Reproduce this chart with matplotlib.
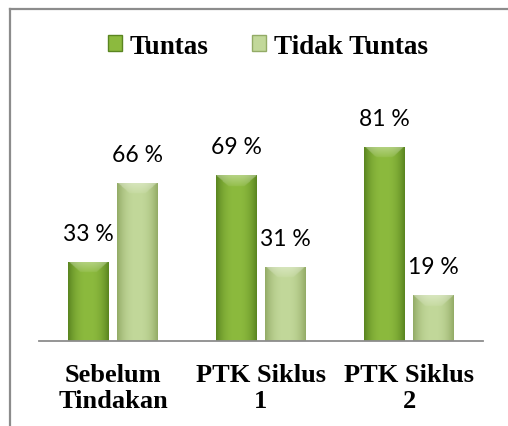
import numpy as np
import matplotlib.pyplot as plt
from matplotlib.colors import to_rgb
from matplotlib.patches import Rectangle

categories = ['Sebelum\nTindakan', 'PTK Siklus\n1', 'PTK Siklus\n2']
tuntas = [33, 69, 81]
tidak_tuntas = [66, 31, 19]
series_names = ['Tuntas', 'Tidak Tuntas']

# (edge colour, centre colour) for the shaded bars
shades = [('#5a8520', '#8cba3e'), ('#93ab66', '#c2d89a')]

fig = plt.figure(figsize=(5.08, 4.27), dpi=100)
# outer frame like the source picture
fig.add_artist(plt.Line2D([9.5 / 508, 9.5 / 508], [0, 1 - 9.5 / 427], color='#8c8c8c', lw=1.6))
fig.add_artist(plt.Line2D([9.5 / 508, 1], [1 - 9.5 / 427, 1 - 9.5 / 427], color='#8c8c8c', lw=1.6))

ax = fig.add_axes([39 / 508, 85 / 427, 444 / 508, 240 / 427])
x = np.arange(len(categories))
w = 0.277
off = 0.166


def shaded(bars, edge, centre):
    e = np.array(to_rgb(edge))
    c = np.array(to_rgb(centre))
    u = np.linspace(-1, 1, 60)
    prof = 1 - np.abs(u) ** 2.5
    for b in bars:
        bx, by = b.get_x(), b.get_y()
        bw, bh = b.get_width(), b.get_height()
        rows = np.linspace(by + bh, by, 300)
        img = np.zeros((len(rows), len(u), 3))
        for i, yy in enumerate(rows):
            col = e[None, :] + (c - e)[None, :] * prof[:, None]
            d = by + bh - yy
            if d < 4.5:
                # bevel at the top, fading downwards and narrower inside
                inside = np.abs(u) < 1 - d / 4.5 * 0.6
                k = 0.28 * (1 - d / 4.5) * inside + 0.08 * inside
                col = col + (1 - col) * k[:, None]
            img[i] = col
        im = ax.imshow(img, extent=[bx, bx + bw, by, by + bh], aspect='auto',
                       interpolation='bilinear', zorder=2)
        im.set_clip_path(b)
        b.set_facecolor('none')


b1 = ax.bar(x - off, tuntas, w, zorder=2, linewidth=0)
b2 = ax.bar(x + off, tidak_tuntas, w, zorder=2, linewidth=0)
shaded(b1, *shades[0])
shaded(b2, *shades[1])

for bars, vals in ((b1, tuntas), (b2, tidak_tuntas)):
    for b, v in zip(bars, vals):
        ax.annotate(f'{v} %', (b.get_x() + b.get_width() / 2, v), xytext=(0, 13),
                    textcoords='offset points', ha='center', va='bottom',
                    fontsize=16.5, family='Lato', color='black')

ax.set_xlim(-0.5, 2.5)
ax.set_ylim(0, 100)
ax.set_xticks(x)
ax.set_xticklabels(categories, family='Liberation Serif', fontweight='bold',
                   fontsize=19, linespacing=1.15)
ax.tick_params(axis='x', length=0, pad=16)
ax.set_yticks([])
for s in ['top', 'right', 'left']:
    ax.spines[s].set_visible(False)
ax.spines['bottom'].set_color('#8c8c8c')
ax.spines['bottom'].set_linewidth(1.3)

handles = [Rectangle((0, 0), 1, 1, color=shades[0][1], ec=shades[0][0]),
           Rectangle((0, 0), 1, 1, color=shades[1][1], ec=shades[1][0])]
fig.legend(handles, series_names, loc='center', bbox_to_anchor=(268 / 508, 1 - 47 / 427),
           ncol=2, frameon=False, handlelength=0.5, handleheight=0.5,
           handletextpad=0.3, columnspacing=1.6,
           prop={'family': 'Liberation Serif', 'weight': 'bold', 'size': 19.5})

fig.savefig('out.png', dpi=100)
